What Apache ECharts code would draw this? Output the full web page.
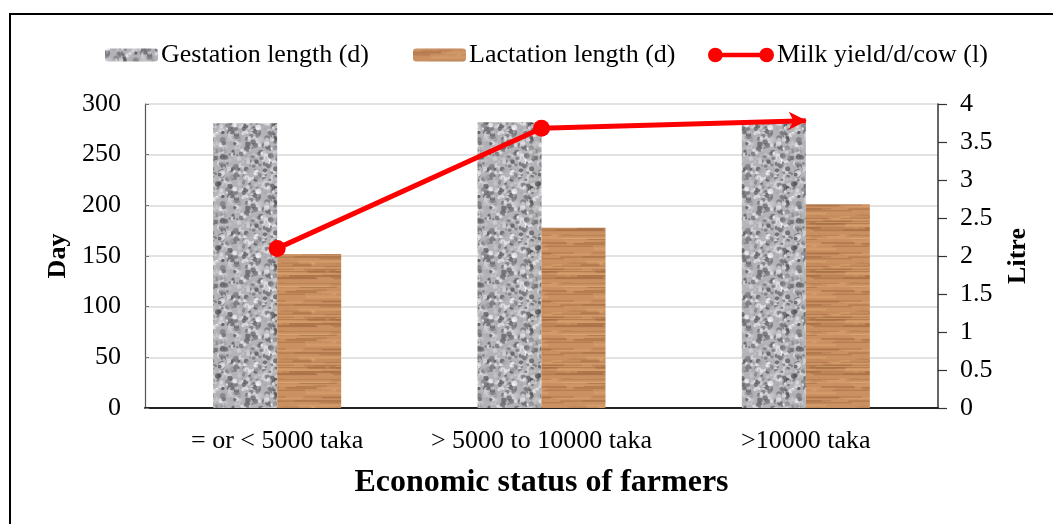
<!DOCTYPE html>
<html>
<head>
<meta charset="utf-8">
<script src="https://cdn.jsdelivr.net/npm/echarts@6/dist/echarts.min.js"></script>
<style>
html,body{margin:0;padding:0;background:#fff;}
#chart{width:1053px;height:524px;}
</style>
</head>
<body>
<div id="chart"></div>
<script>
// ---- Data ----
const categories = ['= or < 5000 taka', '> 5000 to 10000 taka', '>10000 taka'];
const gestationLength = [281, 282, 281];
const lactationLength = [152, 178, 201];
const milkYield = [2.1, 3.68, 3.78];
const seriesNames = ['Gestation length (d)', 'Lactation length (d)', 'Milk yield/d/cow (l)'];

// ---- Texture helpers (deterministic) ----
function lcg(seed){ let s = seed; return function(){ s = (s * 1664525 + 1013904223) % 4294967296; return s / 4294967296; }; }

function graniteCanvas(){
  const c = document.createElement('canvas'); c.width = 64; c.height = 64;
  const g = c.getContext('2d');
  g.fillStyle = '#b4b4b8'; g.fillRect(0,0,64,64);
  const r = lcg(12345);
  for (let i = 0; i < 420; i++) {
    const x = r()*64, y = r()*64, rad = 0.9 + r()*2.0;
    const t = r();
    const v = t < 0.35 ? Math.floor(70 + r()*60) : Math.floor(160 + r()*90);
    g.fillStyle = 'rgba(' + v + ',' + v + ',' + (v+4) + ',0.7)';
    for (const dx of [0, -64, 64]) for (const dy of [0, -64, 64]) {
      g.beginPath(); g.arc(x + dx, y + dy, rad, 0, Math.PI*2); g.fill();
    }
  }
  return c;
}
function woodCanvas(){
  const c = document.createElement('canvas'); c.width = 96; c.height = 48;
  const g = c.getContext('2d');
  g.fillStyle = '#cb9062'; g.fillRect(0,0,96,48);
  const r = lcg(777);
  for (let i = 0; i < 45; i++) {
    const y = r()*48, x = r()*96, len = 25 + r()*70, h = 0.8 + r()*1.4;
    const dark = r() < 0.5;
    g.fillStyle = dark ? 'rgba(140,88,48,0.35)' : 'rgba(225,170,120,0.45)';
    g.fillRect(x, y, len, h);
    if (x + len > 96) g.fillRect(x - 96, y, len, h);
  }
  return c;
}
const granite = { image: graniteCanvas(), repeat: 'repeat' };
const wood = { image: woodCanvas(), repeat: 'repeat' };

const FONT = 'Liberation Serif';
const chart = echarts.init(document.getElementById('chart'), null, { renderer: 'canvas' });

const legendBase = {
  top: 37, itemHeight: 13, itemGap: 0,
  textStyle: { fontFamily: FONT, fontSize: 26, color: '#000', padding: [0,0,0,-2] }
};

const lineData = milkYield.map((v, i) => {
  if (i === milkYield.length - 1) {
    return { value: v, symbol: 'path://M0,0L20,10L0,20L5,10Z', symbolSize: [18, 18], symbolOffset: [-8, 0] };
  }
  return { value: v };
});

chart.setOption({
  animation: false,
  backgroundColor: '#fff',
  graphic: [{
    type: 'rect', shape: { x: 10, y: 14, width: 1100, height: 600 },
    style: { fill: 'none', stroke: '#000', lineWidth: 2 }, silent: true, z: 100
  }],
  legend: [
    Object.assign({}, legendBase, { left: 100, itemWidth: 53, data: [seriesNames[0]] }),
    Object.assign({}, legendBase, { left: 408, itemWidth: 53, data: [seriesNames[1]] }),
    Object.assign({}, legendBase, { left: 703, itemWidth: 66, itemHeight: 17,
      data: [{ name: seriesNames[2], icon: 'path://M0,8A8,8 0 1,1 16,8A8,8 0 1,1 0,8ZM56,8A8,8 0 1,1 72,8A8,8 0 1,1 56,8ZM8,5.5L64,5.5L64,10.5L8,10.5Z' }] })
  ],
  grid: { left: 145, right: 115, top: 104, bottom: 116, containLabel: false },
  xAxis: {
    type: 'category', data: categories,
    axisLine: { lineStyle: { color: '#222', width: 2 } },
    axisTick: { show: false },
    axisLabel: { fontFamily: FONT, fontSize: 26, color: '#000', margin: 20, interval: 0 },
    name: 'Economic status of farmers', nameLocation: 'middle', nameGap: 59,
    nameTextStyle: { fontFamily: FONT, fontSize: 32, fontWeight: 'bold', color: '#000' }
  },
  yAxis: [{
    type: 'value', min: 0, max: 300, interval: 50, position: 'left',
    axisLine: { show: true, lineStyle: { color: '#555', width: 1.2 } },
    axisTick: { show: true, inside: true, length: 4, lineStyle: { color: '#777' } },
    splitLine: { lineStyle: { color: '#d9d9d9', width: 1.5 } },
    axisLabel: { fontFamily: FONT, fontSize: 26, color: '#000', margin: 24 },
    name: 'Day', nameLocation: 'middle', nameRotate: 90, nameGap: 64,
    nameTextStyle: { fontFamily: FONT, fontSize: 26, fontWeight: 'bold', color: '#000' }
  }, {
    type: 'value', min: 0, max: 4, interval: 0.5, position: 'right',
    axisLine: { show: true, lineStyle: { color: '#333', width: 1.5 } },
    axisTick: { show: true, inside: false, length: 9, lineStyle: { color: '#333', width: 1.2 } },
    splitLine: { show: false },
    axisLabel: { fontFamily: FONT, fontSize: 26, color: '#000', margin: 22 },
    name: 'Litre', nameLocation: 'middle', nameRotate: 90, nameGap: 67,
    nameTextStyle: { fontFamily: FONT, fontSize: 26, fontWeight: 'bold', color: '#000' }
  }],
  series: [{
    name: seriesNames[0], type: 'bar', data: gestationLength,
    barWidth: 64, barGap: '0%', itemStyle: { color: granite }
  }, {
    name: seriesNames[1], type: 'bar', data: lactationLength,
    barWidth: 64, barGap: '0%', itemStyle: { color: wood }
  }, {
    name: seriesNames[2], type: 'line', yAxisIndex: 1, data: lineData,
    symbol: 'circle', symbolSize: 17,
    lineStyle: { color: '#ff0000', width: 5 },
    itemStyle: { color: '#ff0000' }, z: 5
  }]
});
</script>
</body>
</html>
